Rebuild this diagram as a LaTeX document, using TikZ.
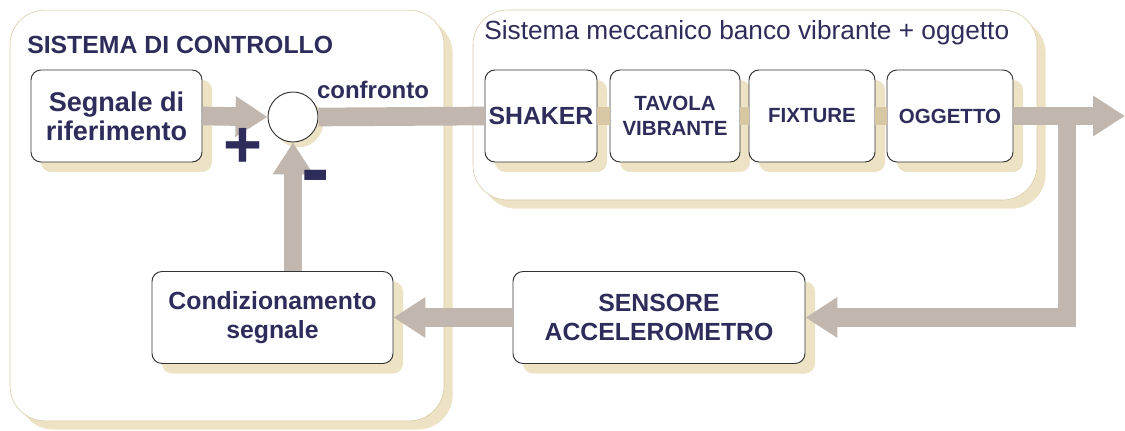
\documentclass[tikz,border=0pt]{standalone}
\usepackage{fontspec}
\setmainfont{Liberation Sans}
\usetikzlibrary{arrows.meta, shadows, positioning}
\definecolor{navy}{HTML}{2E2C5A}
\definecolor{flowgray}{HTML}{C2B7AF}
\definecolor{flowtan}{HTML}{D7C7A2}
\definecolor{shadowbeige}{HTML}{EDE2C4}
\definecolor{framebeige}{HTML}{D8C9A3}

\begin{document}
\begin{tikzpicture}[x=0.75pt, y=-0.75pt,
  frame/.style={draw=framebeige, fill=white, rounded corners=26pt, inner sep=0pt,
    drop shadow={shadow xshift=6.5pt, shadow yshift=-6.5pt, fill=shadowbeige, opacity=1}},
  block/.style={draw=black!80, line width=0.7pt, fill=white, rounded corners=7.5pt,
    align=center, inner sep=0pt, text=navy, minimum height=69pt,
    font=\fontsize{18.6}{22}\selectfont\bfseries,
    drop shadow={shadow xshift=7.5pt, shadow yshift=-7.5pt, fill=shadowbeige, opacity=1}},
  smallblock/.style={block, font=\fontsize{15.4}{18.8}\selectfont\bfseries},
  flow/.style={draw=flowgray, line width=14pt},
  link/.style={draw=flowtan, line width=13pt},
  head/.style={-{Triangle[length=24pt, width=29pt]}},
  label/.style={text=navy, inner sep=0pt}]

\useasboundingbox (0,0) rectangle (1125,431);

%Frames
\node (ctrl) at (227,215.5) [frame, minimum width=325.5pt, minimum height=308pt] {};
\node (mech) at (755,105) [frame, minimum width=423pt, minimum height=142.5pt] {};

\node (ctrltitle) at (27,45) [label, anchor=west, font=\fontsize{18.6}{22}\selectfont\bfseries] {SISTEMA DI CONTROLLO};
\node (mechtitle) at (484,33) [label, anchor=west, font=\fontsize{19.7}{22}\selectfont] {Sistema meccanico banco vibrante + oggetto};

%Control loop
\node (rif) at (116.5,116) [block, minimum width=128.25pt, font=\fontsize{20.3}{22}\selectfont\bfseries] {Segnale di\\ riferimento};
\node (somma) at (293,117) [circle, draw=black!80, line width=0.7pt, fill=white, minimum size=37.5pt, inner sep=0pt,
  drop shadow={shadow xshift=4pt, shadow yshift=-4pt, fill=shadowbeige, opacity=1}] {};
\node (cond) at (272.5,317.5) [block, minimum width=180.75pt] {Condizionamento\\ segnale};

%Mechanical chain
\node (shaker) at (541,116) [block, minimum width=84pt] {SHAKER};
\node (tavola) at (675,116) [smallblock, minimum width=97.5pt] {TAVOLA\\ VIBRANTE};
\node (fixture) at (812,116) [smallblock, minimum width=94.5pt] {FIXTURE};
\node (oggetto) at (950,116) [smallblock, minimum width=94.5pt] {OGGETTO};

\node (sensore) at (659,317.5) [block, minimum width=219pt] {SENSORE\\ ACCELEROMETRO};

\coordinate (out) at (1125,116);
\coordinate (tap) at (1067,116);

%Flows
\draw[flow, head] (rif.east) -- (somma.west);
\draw[flow] (somma.east) -- (shaker.west);
\draw[link] (shaker.east) -- (tavola.west);
\draw[link] (tavola.east) -- (fixture.west);
\draw[link] (fixture.east) -- (oggetto.west);
\draw[flow, head] (tap) |- (sensore.east);
\draw[flow, head] (oggetto.east) -- (out);
\draw[flow, head] (sensore.west) -- (cond.east);
\draw[flow, head] (somma |- cond.north) -- (somma.south);

\node (confronto) at (373,90) [label, font=\fontsize{18}{20}\selectfont\bfseries] {confronto};
\node (piu) at (243,148) [label, font=\fontsize{50}{50}\selectfont\bfseries] {+};
\node (meno) at (316,184) [label, font=\fontsize{64}{64}\selectfont\bfseries] {-};
\end{tikzpicture}
\end{document}
